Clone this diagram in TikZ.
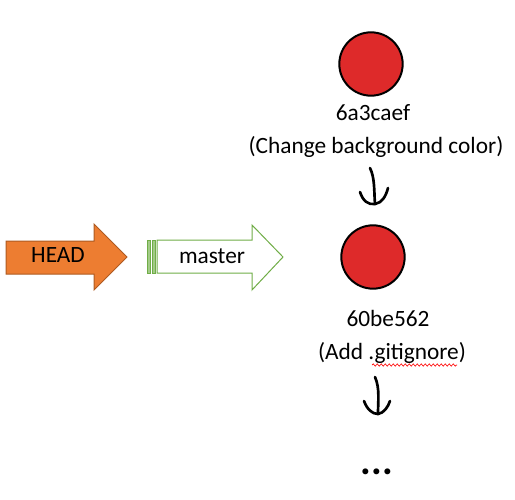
\documentclass[tikz,border=0pt]{standalone}
\usepackage{fontspec}
\setmainfont{Carlito}
\usepackage{tikz}
\usetikzlibrary{positioning,calc,decorations.pathmorphing}
\definecolor{headorange}{RGB}{237,125,49}
\definecolor{headedge}{RGB}{174,90,33}
\definecolor{branchgreen}{RGB}{112,173,71}
\definecolor{commitred}{RGB}{222,42,42}

\begin{document}
\begin{tikzpicture}[x=0.75pt,y=-0.75pt, font=\fontsize{17.5}{21}\selectfont,
  commit/.style={circle, fill=commitred, draw=black, line width=1.5pt, minimum size=47.5pt, inner sep=0pt},
  lbl/.style={anchor=base, inner sep=0pt},
  hand/.style={line width=2pt, line cap=round, line join=round}]
\useasboundingbox (0,0) rectangle (515,500);

% pointers
\draw[fill=headorange, draw=headedge, line width=0.75pt]
  (6,241) -- (94,241) -- (94,224) -- (127,257) -- (94,290) -- (94,274) -- (6,274) -- cycle;
\node[lbl] (head) at (58,262) {HEAD};

\draw[fill=branchgreen!65, draw=branchgreen, line width=0.75pt] (147,240) rectangle (150,273);
\draw[fill=branchgreen!65, draw=branchgreen, line width=0.75pt] (152,240) rectangle (155,273);
\draw[fill=white, draw=branchgreen, line width=0.75pt]
  (157,240) -- (252,240) -- (252,225) -- (283,257) -- (252,290) -- (252,273) -- (157,273) -- cycle;
\node[lbl] (master) at (212,263) {master};

% commits
\node[commit] (c1) at (371,64) {};
\node[lbl] (h1) at (373,120) {6a3caef};
\node[lbl] (m1) at (376,153) {(Change background color)};

\node[commit] (c2) at (373,257) {};
\node[lbl] (h2) at (388,326) {60be562};
\node[lbl] (m2) at (392,359) {(Add .gitignore)};
\draw[red, line width=0.5pt, decorate, decoration={snake, amplitude=0.8pt, segment length=3pt}]
  (372,365) -- (457,365);

\node[lbl, font=\fontsize{30}{30}\selectfont\bfseries] (more) at (377,474) {...};

% hand drawn arrows
\coordinate (a1s) at (370,168);
\coordinate (a1e) at (375,204);
\draw[hand] (a1s) .. controls (375,178) and (374,192) .. (a1e);
\draw[hand] (360,192) .. controls (363,201) and (368,205) .. (a1e)
  .. controls (382,203) and (386,196) .. (388,188);

\coordinate (a2s) at (375,377);
\coordinate (a2e) at (378,414);
\draw[hand] (a2s) .. controls (380,388) and (378,402) .. (a2e);
\draw[hand] (364,401) .. controls (367,409) and (372,414) .. (a2e)
  .. controls (384,413) and (388,407) .. (390,401);
\end{tikzpicture}
\end{document}
